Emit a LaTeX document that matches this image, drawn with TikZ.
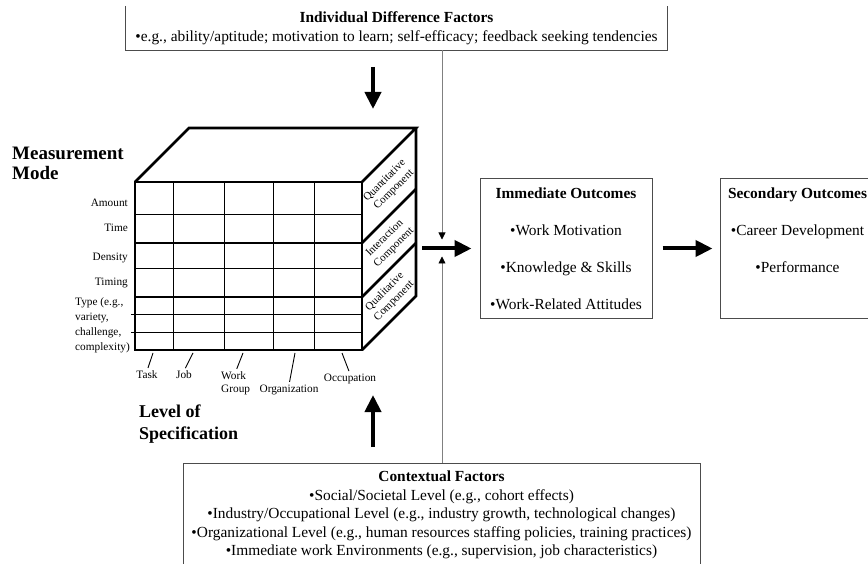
\documentclass[tikz,border=0pt]{standalone}
\usepackage{fontspec}
\setmainfont{Liberation Serif}
\usetikzlibrary{arrows.meta,positioning}

\begin{document}
\begin{tikzpicture}[x=1pt, y=-1pt, >={Triangle[length=17pt,width=16pt]},
    boxline/.style={draw=black!70, line width=1pt},
    factorbox/.style={align=center, inner sep=0pt, font=\fontsize{15.4}{18.5}\selectfont},
    outcome/.style={boxline, align=center, inner sep=0pt, minimum height=139pt, font=\fontsize{15.4}{37}\selectfont},
    cubeline/.style={line width=2.6pt, line join=miter},
    gridline/.style={line width=0.9pt},
    rowlabel/.style={anchor=east, inner sep=0pt, font=\fontsize{11.3}{15}\selectfont},
    levellabel/.style={align=center, inner sep=0pt, font=\fontsize{11.3}{13}\selectfont},
    facelabel/.style={rotate=45, align=center, inner sep=0pt, font=\fontsize{11}{13}\selectfont},
    heading/.style={anchor=west, align=left, inner sep=0pt},
    bigarrow/.style={->, line width=4pt},
    feed/.style={-{Triangle[length=7pt,width=7pt,color=black]}, draw=black!50, line width=0.8pt}]
    \useasboundingbox (0,0) rectangle (868,564);

    % Individual differences.
    \node[factorbox, minimum width=541pt, minimum height=44pt] (idf) at (396.5,28)
        {\textbf{Individual Difference Factors}\\
         •e.g., ability/aptitude; motivation to learn; self-efficacy; feedback seeking tendencies};
    \draw[boxline] (idf.north west) -- (idf.south west) -- (idf.south east) -- (idf.north east);

    % Contextual factors.
    \node[factorbox, boxline, minimum width=517pt, minimum height=104pt] (ctx) at (441.5,515)
        {\textbf{Contextual Factors}\\
         •Social/Societal Level (e.g., cohort effects)\\
         •Industry/Occupational Level (e.g., industry growth, technological changes)\\
         •Organizational Level (e.g., human resources staffing policies, training practices)\\
         •Immediate work Environments (e.g., supervision, job characteristics)};

    % Outcomes.
    \node[outcome, minimum width=172pt] (imm) at (566,248.5)
        {\textbf{Immediate Outcomes}\\•Work Motivation\\•Knowledge \& Skills\\•Work-Related Attitudes};
    \node[outcome, minimum width=155pt] (sec) at (797.5,248.5)
        {\textbf{Secondary Outcomes}\\•Career Development\\•Performance\\~};

    % Front face grid.
    \foreach \x in {173,224,273,314}
        \draw[gridline] (\x,182) -- (\x,350);
    \foreach \y in {214,268}
        \draw[gridline] (135,\y) -- (362,\y);
    \foreach \y in {314,332}
        \draw[gridline] (131,\y) -- (362,\y);
    \foreach \y in {243,297}
        \draw[cubeline] (135,\y) -- (362,\y);
    \draw[cubeline] (135,182) rectangle (362,350);

    % Top and side faces.
    \draw[cubeline] (135,182) -- (189,128) -- (416,128) -- (362,182);
    \draw[cubeline] (416,128) -- (416,296) -- (362,350);
    \foreach \y in {243,297}
        \draw[cubeline] (362,\y) -- ++(54,-54);

    \node[facelabel] (quant) at (389.5,185.5) {Quantitative\\Component};
    \node[facelabel] (inter) at (389.5,243) {Interaction\\Component};
    \node[facelabel] (qual) at (389.5,296.5) {Qualitative\\Component};

    % Measurement mode.
    \node[heading, font=\fontsize{19}{20}\selectfont\bfseries] (mode) at (12,163) {Measurement\\Mode};
    \foreach \name/\y in {Amount/203, Time/228, Density/258, Timing/283}
        \node[rowlabel] (row-\name) at (128,\y) {\name};
    \node[heading, font=\fontsize{11.3}{15}\selectfont] (row-Type) at (75,325.5)
        {Type (e.g.,\\variety,\\challenge,\\complexity)};

    % Level of specification.
    \node[heading, font=\fontsize{18}{22}\selectfont\bfseries] (level) at (139,424) {Level of\\Specification};
    \node[levellabel] (task) at (147,375) {Task};
    \node[levellabel] (job) at (184,375) {Job};
    \node[levellabel, align=left, anchor=west] (wgroup) at (221,383.5) {Work\\Group};
    \node[levellabel] (org) at (289,390) {Organization};
    \node[levellabel] (occ) at (350,379) {Occupation};
    \foreach \lab/\top in {task/153, job/193, wgroup/243, org/295, occ/342}
        \draw[gridline, shorten >=3pt] (\top,353) -- (\lab.north);

    % Arrows.
    \coordinate (idf-in) at (373,67);
    \coordinate (cube-top) at (373,109);
    \coordinate (ctx-in) at (373,447);
    \coordinate (cube-bottom) at (373,395);
    \coordinate (cube-out) at (422,248.5);
    \coordinate (join) at (442,248.5);
    \draw[bigarrow] (idf-in) -- (cube-top);
    \draw[bigarrow] (ctx-in) -- (cube-bottom);
    \draw[bigarrow, shorten >=8pt] (cube-out) -- (imm.west);
    \draw[bigarrow, shorten <=10pt, shorten >=7pt] (imm) -- (sec);
    \draw[feed] (idf.south -| join) -- ([yshift=9pt]join);
    \draw[feed] (ctx.north -| join) -- ([yshift=-8pt]join);

\end{tikzpicture}
\end{document}
